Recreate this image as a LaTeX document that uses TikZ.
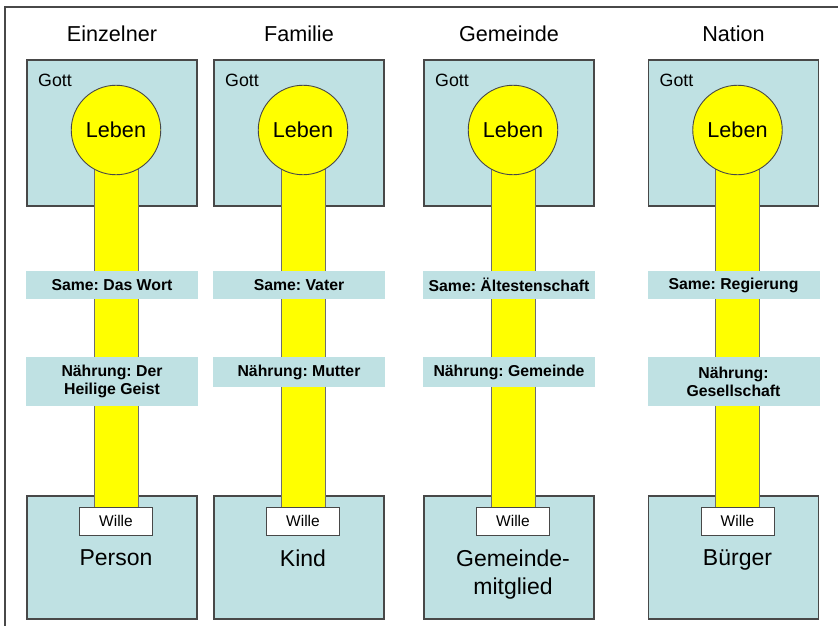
\documentclass[tikz,border=0pt]{standalone}
\usepackage{fontspec}
\setmainfont{Liberation Sans}
\frenchspacing
\definecolor{paleblue}{RGB}{191,225,227}
\definecolor{edgegray}{RGB}{72,72,72}
\definecolor{stemgray}{RGB}{110,110,110}
\definecolor{lifeyellow}{RGB}{255,255,0}
\begin{document}
\begin{tikzpicture}[x=1pt,y=-1pt,
  frameline/.style={draw=edgegray,line width=1.5pt},
  godbox/.style={draw=edgegray,line width=1.1pt,fill=paleblue,minimum width=170pt,minimum height=146pt,inner sep=0pt},
  manbox/.style={draw=edgegray,line width=1.1pt,fill=paleblue,minimum width=170pt,minimum height=123pt,inner sep=0pt},
  titlelabel/.style={anchor=base,inner sep=0pt,font=\fontsize{21.6}{26}\selectfont},
  gottlabel/.style={anchor=base west,inner sep=0pt,font=\fontsize{17.8}{21}\selectfont},
  lifecircle/.style={circle,draw=edgegray,line width=0.9pt,fill=lifeyellow,minimum size=89.5pt,inner sep=0pt,font=\fontsize{21.6}{26}\selectfont},
  stem/.style={draw=stemgray,line width=0.9pt,fill=lifeyellow},
  tagbox/.style={fill=paleblue,minimum width=172pt,minimum height=28pt,inner sep=0pt,align=center,font=\fontsize{15.8}{18}\selectfont\bfseries},
  willbox/.style={draw=edgegray,line width=0.9pt,fill=white,anchor=north,minimum width=73pt,minimum height=28pt,inner sep=0pt,font=\fontsize{15.5}{18}\selectfont},
  wholabel/.style={anchor=north,inner sep=0pt,align=center,font=\fontsize{23}{28}\selectfont}]
\useasboundingbox (0,0) rectangle (838,626);
% outer frame
\draw[frameline] (5,630) -- (5,7) -- (842,7);
\foreach \n/\cx/\title/\same/\naehr/\fh/\who in {
  a/112/Einzelner/{Same: Das Wort}/{Nährung: Der\\Heilige Geist}/49/Person,
  b/299/Familie/{Same: Vater}/{Nährung: Mutter}/30/Kind,
  c/509/Gemeinde/{Same: Ältestenschaft}/{Nährung: Gemeinde}/30/{Gemeinde-\\mitglied},
  d/733.5/Nation/{Same: Regierung}/{Nährung:\\Gesellschaft}/49/Bürger}{
  % column heading and the two boxes
  \node[titlelabel] (title\n) at (\cx,41.5) {\title};
  \node[godbox] (top\n) at (\cx,133) {};
  \node[gottlabel] (gott\n) at (\cx-74,86) {Gott};
  \node[manbox] (bot\n) at (\cx,557.5) {};
  % the stem runs from the circle down to the will box
  \coordinate (core\n) at (\cx+4,130);
  \coordinate (root\n) at (\cx+4,507);
  \draw[stem] ([xshift=-22pt]core\n) rectangle ([xshift=22pt]root\n);
  \node[lifecircle] (life\n) at (core\n) {Leben};
  \node[tagbox] (seed\n) at (\cx,285) {\same};
  \node[tagbox,anchor=north,minimum height=\fh pt] (food\n) at (\cx,357) {\naehr};
  \node[willbox] (will\n) at (root\n) {Wille};
  \node[wholabel] (who\n) at (\cx+4,549.5) {\who};
}
\end{tikzpicture}
\end{document}
